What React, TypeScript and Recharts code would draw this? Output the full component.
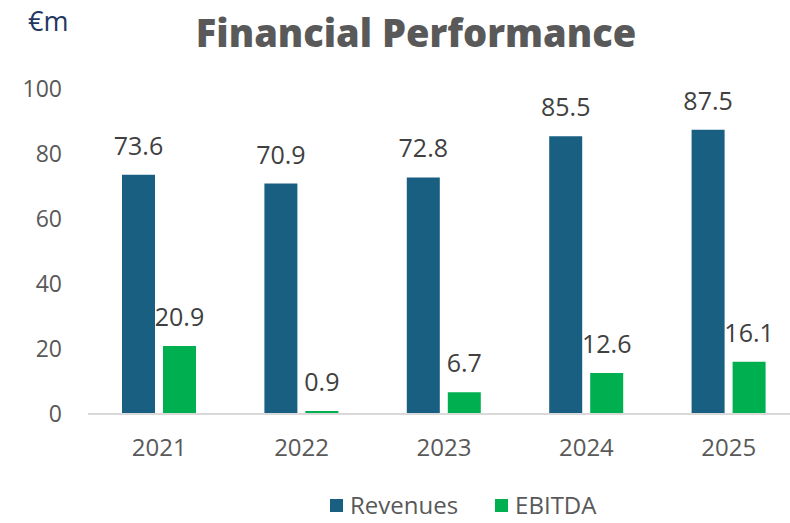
import React from 'react';
import { BarChart, Bar, XAxis, YAxis, Legend, LabelList } from 'recharts';

const years = ['2021', '2022', '2023', '2024', '2025'];
const revenues = [73.6, 70.9, 72.8, 85.5, 87.5];
const ebitda = [20.9, 0.9, 6.7, 12.6, 16.1];
const yTicks = [0, 20, 40, 60, 80, 100];
const seriesOrder = ['Revenues', 'EBITDA'];

const data = years.map((year, i) => ({ year, Revenues: revenues[i], EBITDA: ebitda[i] }));

const FONT = '"Open Sans", "Noto Sans", sans-serif';
const REV_COLOR = '#185F82';
const EBITDA_COLOR = '#00B050';

const renderLegend = (props: any) => {
  const items = [...(props.payload || [])].sort(
    (a: any, b: any) => seriesOrder.indexOf(a.value) - seriesOrder.indexOf(b.value)
  );
  return (
    <div style={{ display: 'flex', alignItems: 'center', fontFamily: FONT, whiteSpace: 'nowrap', height: 20 }}>
      {items.map((entry: any, index: number) => (
        <div key={`item-${index}`} style={{ display: 'flex', alignItems: 'center', marginRight: 37, height: 20 }}>
          <span style={{ width: 13, height: 13, background: entry.color, display: 'inline-block', marginRight: 7 }} />
          <span style={{ display: 'inline-block', fontSize: 24, lineHeight: '20px', height: 20, color: '#595959' }}>
            {entry.value}
          </span>
        </div>
      ))}
    </div>
  );
};

export default function App() {
  return (
    <div style={{ position: 'absolute', left: 0, top: 0, width: 790, height: 523, background: '#fff' }}>
      <div style={{ position: 'absolute', left: 28, top: 2, fontFamily: FONT, fontSize: 27, color: '#1F3864' }}>€m</div>
      <div
        style={{
          position: 'absolute',
          left: 0,
          width: 832,
          top: 6,
          textAlign: 'center',
          fontFamily: FONT,
          fontWeight: 800,
          fontSize: 38,
          color: '#595959',
        }}
      >
        Financial Performance
      </div>
      <BarChart
        width={790}
        height={523}
        data={data}
        margin={{ top: 89, right: -10, bottom: 69, left: 0 }}
        barSize={33}
        barGap={8}
      >
        <XAxis
          dataKey="year"
          axisLine={{ stroke: '#D9D9D9', strokeWidth: 2 }}
          tickLine={false}
          tickMargin={19}
          height={40}
          tick={{ fill: '#595959', fontSize: 24, fontFamily: FONT }}
        />
        <YAxis
          domain={[0, 100]}
          ticks={yTicks}
          width={88}
          axisLine={false}
          tickLine={false}
          tickMargin={20}
          tick={{ fill: '#595959', fontSize: 23, fontFamily: FONT }}
        />
        <Legend
          verticalAlign="middle"
          align="center"
          layout="horizontal"
          content={renderLegend}
          wrapperStyle={{ position: 'absolute', left: 330, top: 495, width: 400, height: 20 }}
        />
        <Bar dataKey="Revenues" fill={REV_COLOR} isAnimationActive={false}>
          <LabelList dataKey="Revenues" position="top" offset={20} fill="#404040" fontSize={25} fontFamily={FONT} />
        </Bar>
        <Bar dataKey="EBITDA" fill={EBITDA_COLOR} isAnimationActive={false}>
          <LabelList dataKey="EBITDA" position="top" offset={20} fill="#404040" fontSize={25} fontFamily={FONT} />
        </Bar>
      </BarChart>
    </div>
  );
}
